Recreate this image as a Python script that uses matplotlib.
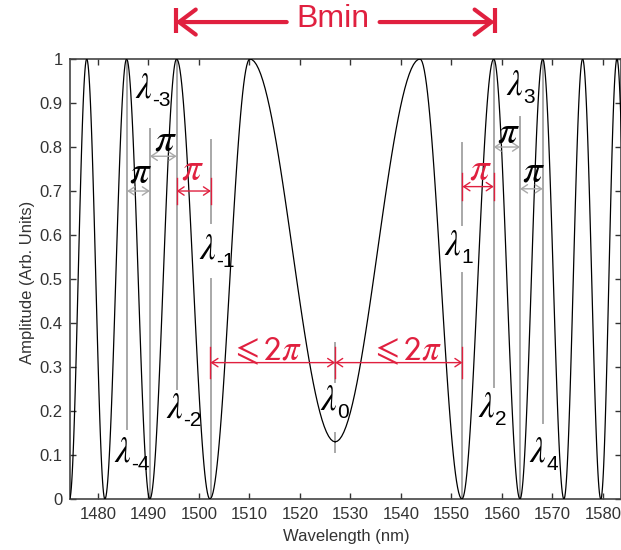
import numpy as np
import matplotlib
matplotlib.use('Agg')
import matplotlib.pyplot as plt
from matplotlib.patches import FancyArrowPatch

plt.rcParams['font.family'] = ['Liberation Sans', 'DejaVu Sans']
plt.rcParams['mathtext.fontset'] = 'stix'

RED = '#e0203f'
GRAY = '#a8a8a8'

# extrema of the curve (nm, amplitude)
ext_wl = [1471.2, 1474.4, 1477.8, 1481.4, 1485.7, 1490.3, 1495.6, 1502.2, 1510.1, 1527.0,
          1543.8, 1552.1, 1558.4, 1563.6, 1568.1, 1572.3, 1576.0, 1579.6, 1582.8, 1586.0]
ext_amp = [1, 0, 1, 0, 1, 0, 1, 0, 1, 0.13, 1, 0, 1, 0, 1, 0, 1, 0, 1, 0]

# gray marker lines: wavelength and their (ymin, ymax) pieces
mark_wl = [1485.8, 1490.3, 1495.6, 1502.4, 1527.0, 1552.2, 1558.4, 1563.6, 1568.1]
mark_spans = [[(0.16, 1.0)], [(0.0, 0.84)], [(0.25, 1.0)], [(0.0, 0.50), (0.627, 0.816)],
              [(0.107, 0.15), (0.266, 0.355)], [(0.0, 0.514), (0.623, 0.81)],
              [(0.255, 1.0)], [(0.0, 0.868)], [(0.173, 1.0)]]

# pi arrows
pi_x0 = [1485.8, 1490.3, 1495.6, 1552.2, 1558.4, 1563.6]
pi_x1 = [1490.3, 1495.6, 1502.4, 1558.4, 1563.6, 1568.1]
pi_y = [0.70, 0.779, 0.70, 0.71, 0.80, 0.705]
pi_red = [False, False, True, True, False, False]
pi_lx = [1488.5, 1493.3, 1498.7, 1555.8, 1561.4, 1566.2]
pi_ly = [0.743, 0.814, 0.749, 0.748, 0.833, 0.745]

# lambda labels (position of the lambda glyph, subscript beside it)
lam_sub = ['-4', '-3', '-2', '-1', '0', '1', '2', '3', '4']
lam_x = [1484.9, 1489.1, 1495.2, 1501.7, 1525.7, 1550.3, 1557.0, 1562.6, 1567.1]
lam_y = [0.107, 0.934, 0.207, 0.568, 0.225, 0.577, 0.209, 0.941, 0.107]

# <= 2 pi arrows
two_pi_x = [1502.3, 1527.0, 1552.2]
two_pi_y = 0.31
two_pi_lx = [1513.3, 1541.0]
two_pi_ly = 0.336

fig = plt.figure(figsize=(6.21, 5.5), dpi=100)
ax = fig.add_axes([0.112, 0.0927, 0.888, 0.8])

# curve: half-cosine shaped pieces between the read extrema
for i in range(len(ext_wl) - 1):
    t = np.linspace(0, 1, 40)
    x = ext_wl[i] + (ext_wl[i + 1] - ext_wl[i]) * t
    y = ext_amp[i] + (ext_amp[i + 1] - ext_amp[i]) * (1 - np.cos(np.pi * t)) / 2
    ax.plot(x, y, color='black', lw=0.9, zorder=5)

for wl, spans in zip(mark_wl, mark_spans):
    for y0, y1 in spans:
        ax.plot([wl, wl], [y0, y1], color=GRAY, lw=1.4, zorder=3)


def arrow(x0, x1, y, color, lw=1.0, ms=10, style='<->,head_length=0.45,head_width=0.3'):
    a = FancyArrowPatch((x0, y), (x1, y), arrowstyle=style, color=color, lw=lw,
                        mutation_scale=ms, shrinkA=0, shrinkB=0, zorder=6, clip_on=False)
    ax.add_patch(a)


for x0, x1, y, red, lx, ly in zip(pi_x0, pi_x1, pi_y, pi_red, pi_lx, pi_ly):
    c = RED if red else GRAY
    arrow(x0, x1, y, c)
    if red:
        for xe in (x0, x1):
            ax.plot([xe, xe], [y - 0.03, y + 0.03], color=RED, lw=1.0, zorder=6)
    ax.text(lx, ly, r'$\pi$', fontsize=28, color=RED if red else 'black',
            ha='center', va='center', zorder=7)

for s, x, y in zip(lam_sub, lam_x, lam_y):
    ax.text(x, y, r'$\lambda$', fontsize=25, ha='center', va='center', zorder=7)
    ax.annotate(s, (x, y), xytext=(6, -9), textcoords='offset points', fontsize=15,
                ha='left', va='center', zorder=7)

# <= 2 pi
arrow(two_pi_x[0], two_pi_x[1], two_pi_y, RED)
arrow(two_pi_x[1], two_pi_x[2], two_pi_y, RED)
for xe in two_pi_x:
    ax.plot([xe, xe], [two_pi_y - 0.035, two_pi_y + 0.035], color=RED, lw=1.0, zorder=6)
for lx in two_pi_lx:
    ax.text(lx, two_pi_ly, r'$\leqslant\mathsf{2}\pi$', fontsize=25, color=RED,
            ha='center', va='center', zorder=7)

# Bmin
ax.text(1526.6, 1.073, 'Bmin', fontsize=23, color=RED, ha='center', va='baseline', clip_on=False)
arrow(1517.4, 1495.4, 1.084, RED, lw=3, ms=20, style='->,head_length=0.6,head_width=0.45')
arrow(1535.8, 1558.6, 1.084, RED, lw=3, ms=20, style='->,head_length=0.6,head_width=0.45')
for xe in (1495.4, 1558.6):
    ax.plot([xe, xe], [1.059, 1.116], color=RED, lw=3, clip_on=False, solid_capstyle='butt')

ax.set_xlim(1474.4, 1583.6)
ax.set_ylim(0, 1)
ax.set_xticks(np.arange(1480, 1581, 10))
ax.set_yticks(np.arange(0, 1.01, 0.1))
ax.set_yticklabels(['0', '0.1', '0.2', '0.3', '0.4', '0.5', '0.6', '0.7', '0.8', '0.9', '1'])
ax.tick_params(direction='in', top=True, right=True, length=4, labelsize=12,
               colors='#333333', width=1)
ax.tick_params(axis='x', pad=6)
ax.tick_params(axis='y', pad=5)
for sp in ax.spines.values():
    sp.set_color('#444444')
    sp.set_linewidth(1.2)

ax.set_xlabel('Wavelength (nm)', fontsize=12, color='#333333')
ax.xaxis.label.set_va('center')
ax.xaxis.set_label_coords(0.502, -0.086)
ax.set_ylabel('Amplitude (Arb. Units)', fontsize=12, color='#333333')
ax.yaxis.label.set_va('center')
ax.yaxis.set_label_coords(-0.077, 0.492)

fig.savefig('out.png', dpi=100)
